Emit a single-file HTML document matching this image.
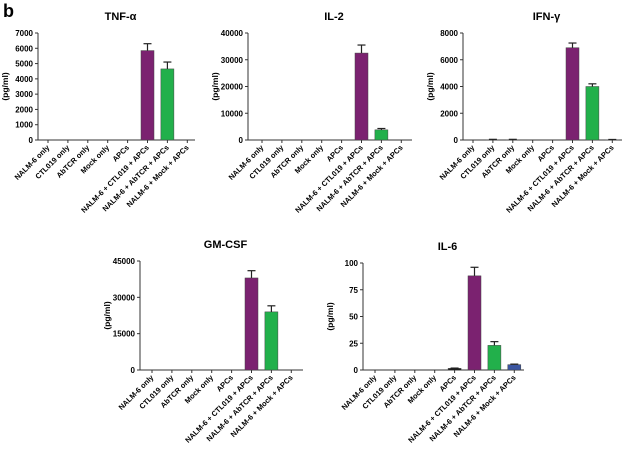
<!DOCTYPE html>
<html><head><meta charset="utf-8"><style>
html,body{margin:0;padding:0;background:#fff;}
svg{display:block;font-family:"Liberation Sans",Arial,sans-serif;}
</style></head><body>
<svg id="fig" width="624" height="453" viewBox="0 0 624 453" xmlns="http://www.w3.org/2000/svg">
<text x="3" y="17" font-size="18" font-weight="bold">b</text>
</svg>
<script>
const categories = ["NALM-6 only","CTL019 only","AbTCR only","Mock only","APCs","NALM-6 + CTL019 + APCs","NALM-6 + AbTCR + APCs","NALM-6 + Mock + APCs"];
const barColors = ["#000","#000","#000","#000","#111","#7b2270","#22b04b","#3b55a0"];
const tnfValues = [0,0,0,0,0,5850,4650,0];
const tnfErrors = [0,0,0,0,0,450,450,0];
const tnfTicks = [0,1000,2000,3000,4000,5000,6000,7000];
const il2Values = [0,0,0,0,0,32500,3800,0];
const il2Errors = [0,0,0,0,0,3000,500,0];
const il2Ticks = [0,10000,20000,30000,40000];
const ifnValues = [0,10,10,0,0,6900,4000,10];
const ifnErrors = [0,40,40,0,0,350,200,30];
const ifnTicks = [0,2000,4000,6000,8000];
const gmValues = [0,0,0,0,0,38000,24000,0];
const gmErrors = [0,0,0,0,0,3000,2500,0];
const gmTicks = [0,15000,30000,45000];
const il6Values = [0,0,0,0,1.5,88,23,5];
const il6Errors = [0,0,0,0,0.3,8,3.5,0.5];
const il6Ticks = [0,25,50,75,100];

const NS="http://www.w3.org/2000/svg";
const svg=document.getElementById('fig');
function mk(tag,attrs,parent){const e=document.createElementNS(NS,tag);for(const k in attrs)e.setAttribute(k,attrs[k]);(parent||svg).appendChild(e);return e;}

function panel(name,title,vals,errs,ticks,ax,y0,y1,x0,xEnd){
  const g=mk('g',{});
  
  
  const max=ticks[ticks.length-1];
  const yS=v=>y0-(v/max)*(y0-y1);
  const xS=i=>x0+i*19.9;
  const t=mk('text',{x:(ax+xEnd)/2+4,y:y1-13,'font-size':11,'font-weight':'bold','text-anchor':'middle'},g);
  t.textContent=title;
  
  
  const yl=mk('text',{transform:`translate(${ax-30},${(y0+y1)/2}) rotate(-90)`,'font-size':8.5,'font-weight':'bold','text-anchor':'middle'},g);
  yl.textContent='(pg/ml)';
  
  
  mk('line',{x1:ax,y1:y1,x2:ax,y2:y0,stroke:'#333','stroke-width':1},g);
  mk('line',{x1:ax,y1:y0,x2:xEnd,y2:y0,stroke:'#333','stroke-width':1},g);
  ticks.forEach(tv=>{
    const y=yS(tv);
    mk('line',{x1:ax-3,y1:y,x2:ax,y2:y,stroke:'#333'},g);
    const tl=mk('text',{x:ax-5,y:y+3,'font-size':8,'font-weight':'bold','text-anchor':'end'},g);
    tl.textContent=tv;
    
    
  });
  categories.forEach((c,i)=>{
    const x=xS(i);
    mk('line',{x1:x,y1:y0,x2:x,y2:y0+3,stroke:'#333'},g);
    const lb=mk('text',{transform:`translate(${x+2},${y0+8}) rotate(-45)`,'font-size':7.5,'font-weight':'bold','text-anchor':'end'},g);
    lb.textContent=c;
    
    
    const v=vals[i],e=errs[i];
    if(v>0){
      const r=mk('rect',{x:x-6.5,y:yS(v),width:13,height:y0-yS(v),fill:barColors[i],stroke:'#444','stroke-width':0.5},g);
      
      
    }
    if(e>0){
      const ye=yS(v+e);
      mk('line',{x1:x,y1:yS(v),x2:x,y2:ye,stroke:'#222','stroke-width':1.2},g);
      mk('line',{x1:x-4,y1:ye,x2:x+4,y2:ye,stroke:'#222','stroke-width':1.2},g);
    }
  });
}
panel('tnf','TNF-α',tnfValues,tnfErrors,tnfTicks,38,140,33,48,195);
panel('il2','IL-2',il2Values,il2Errors,il2Ticks,248,140,33,262,412);
panel('ifn','IFN-γ',ifnValues,ifnErrors,ifnTicks,463,140,33,473,622);
panel('gmcsf','GM-CSF',gmValues,gmErrors,gmTicks,140,370,261,152,303);
panel('il6','IL-6',il6Values,il6Errors,il6Ticks,363,370,263,375,524);
</script>
</body></html>
